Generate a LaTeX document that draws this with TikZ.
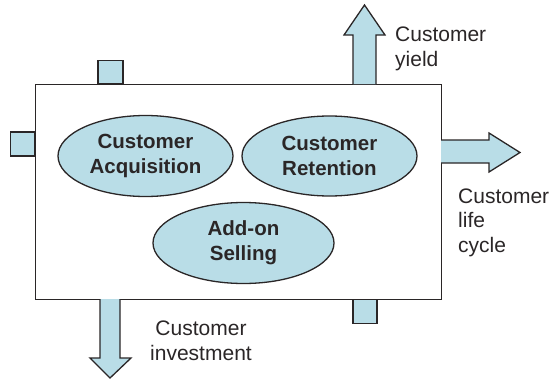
\documentclass[tikz,border=0pt]{standalone}
\usepackage{fontspec}
\setmainfont{Liberation Sans}
\usetikzlibrary{shapes.geometric}
\definecolor{lblue}{HTML}{B9DDE7}
\definecolor{ink}{HTML}{2A2627}
\begin{document}
\begin{tikzpicture}[x=1pt,y=-1pt,
  outline/.style={draw=ink,line width=1.3pt},
  blob/.style={ellipse,outline,fill=lblue,inner sep=0pt},
  blobtext/.style={inner sep=0pt,align=center,
    font=\fontsize{20.5}{25}\selectfont\bfseries,text=ink},
  tab/.style={outline,fill=lblue},
  lbl/.style={inner sep=0pt,align=left,font=\fontsize{21}{24.5}\selectfont,text=ink}]
\useasboundingbox (0,0) rectangle (551,380);
% main box
\node[outline,minimum width=406pt,minimum height=215pt,inner sep=0pt,anchor=north west] (box) at (35,84) {};
% small squares
\node[tab,minimum width=25pt,minimum height=23pt,inner sep=0pt,anchor=south] (sqtop) at (110.5,84) {};
\node[tab,minimum width=24pt,minimum height=24pt,inner sep=0pt,anchor=east] (sqleft) at (35,144) {};
\node[tab,minimum width=24pt,minimum height=24pt,inner sep=0pt,anchor=north] (sqbot) at (365,299) {};
% arrows
\draw[tab,line join=miter] (353,84) -- (353,35) -- (344,35) -- (364.5,5) -- (385,35) -- (376,35) -- (376,84);
\draw[tab,line join=miter] (441,140) -- (489,140) -- (489,133) -- (520,152.5) -- (489,172) -- (489,163) -- (441,163);
\draw[tab,line join=miter] (100,299) -- (100,358) -- (90,358) -- (110,378) -- (131,358) -- (120,358) -- (120,299);
% ellipses
\node[blob,minimum width=175pt,minimum height=81pt,
  label={[blobtext]center:Customer\\Acquisition}] (acq) at (145.5,156) {};
\node[blob,minimum width=175pt,minimum height=80pt,
  label={[blobtext]center:Customer\\Retention}] (ret) at (329.5,156) {};
\node[blob,minimum width=181pt,minimum height=81pt,
  label={[blobtext]center:Add-on\\Selling}] (add) at (243.5,243) {};
% labels
\node[lbl,anchor=base west] (yield) at (395,66) {Customer\\yield};
\node[lbl,anchor=base west] (life) at (458,252) {Customer\\life\\cycle};
\node[lbl,align=center,anchor=base] (inv) at (201,360) {Customer\\investment};
\end{tikzpicture}
\end{document}
